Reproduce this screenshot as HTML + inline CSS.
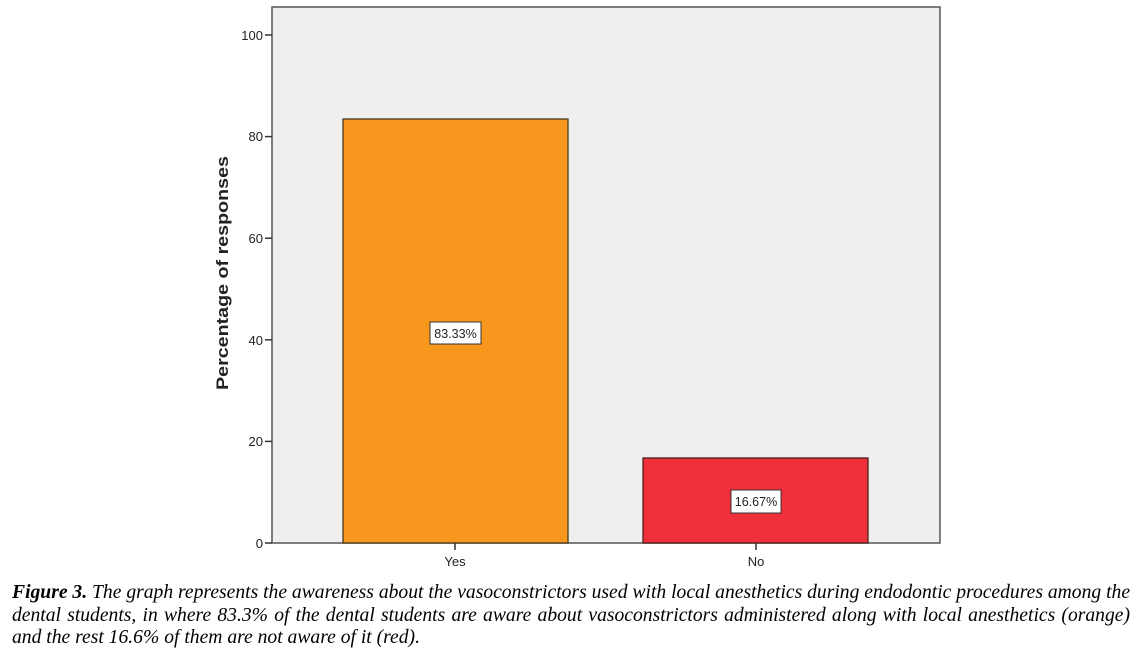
<!DOCTYPE html>
<html><head><style>
body{margin:0;background:#fff;width:1148px;height:657px;overflow:hidden;position:relative}
.cap{position:absolute;left:12px;top:582px;width:1118px;font-family:"Liberation Serif",serif;font-style:italic;font-size:19.6px;line-height:22.5px;color:#000}
.cap div{text-align:justify;text-align-last:justify;white-space:nowrap}
.cap div.l{text-align-last:left}
</style></head><body>
<svg width="1148" height="575" style="position:absolute;left:0;top:0" font-family="Liberation Sans, sans-serif">
<rect x="272" y="7" width="668" height="536" fill="#efeff0" stroke="#555" stroke-width="1.5"/>
<rect x="343" y="119" width="225" height="424" fill="#f7971e" stroke="#4a3a20" stroke-width="1.3"/>
<rect x="643" y="458" width="225" height="85" fill="#ef303b" stroke="#4a2020" stroke-width="1.3"/>
<g stroke="#333" stroke-width="1.5">
<line x1="265" y1="543" x2="272" y2="543"/><line x1="265" y1="441.4" x2="272" y2="441.4"/>
<line x1="265" y1="339.8" x2="272" y2="339.8"/><line x1="265" y1="238.2" x2="272" y2="238.2"/>
<line x1="265" y1="136.6" x2="272" y2="136.6"/><line x1="265" y1="35" x2="272" y2="35"/>
<line x1="455" y1="543" x2="455" y2="550"/><line x1="756" y1="543" x2="756" y2="550"/>
</g>
<g font-size="13" fill="#222" text-anchor="end">
<text x="263" y="548">0</text><text x="263" y="446">20</text><text x="263" y="345">40</text>
<text x="263" y="243">60</text><text x="263" y="141">80</text><text x="263" y="40">100</text>
</g>
<g font-size="13" fill="#222" text-anchor="middle">
<text x="455" y="566">Yes</text><text x="756" y="566">No</text>
</g>
<text transform="translate(228,273) rotate(-90)" font-size="17" font-weight="bold" text-anchor="middle" fill="#222" textLength="234" lengthAdjust="spacingAndGlyphs">Percentage of responses</text>
<rect x="430" y="322" width="51" height="22" fill="#fff" stroke="#333"/>
<text x="455.5" y="338" font-size="12.5" text-anchor="middle" fill="#222">83.33%</text>
<rect x="731" y="490" width="50" height="23" fill="#fff" stroke="#333"/>
<text x="756" y="506" font-size="12.5" text-anchor="middle" fill="#222">16.67%</text>
</svg>
<div class="cap">
<div><b>Figure 3.</b> The graph represents the awareness about the vasoconstrictors used with local anesthetics during endodontic procedures among the</div>
<div>dental students, in where 83.3% of the dental students are aware about vasoconstrictors administered along with local anesthetics (orange)</div>
<div class="l">and the rest 16.6% of them are not aware of it (red).</div>
</div>
</body></html>
